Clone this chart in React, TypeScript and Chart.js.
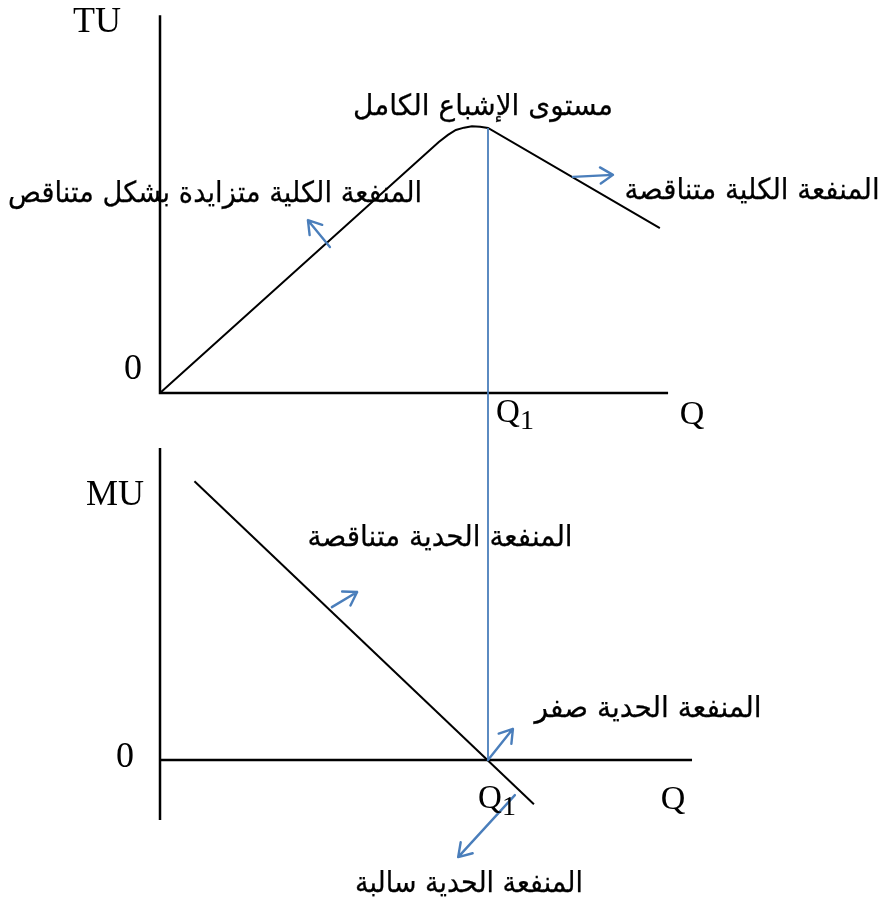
import React, { useEffect, useRef } from "react";
import { Chart, registerables } from "chart.js";

Chart.register(...registerables);

// ---------- data (Q units horizontally, TU / MU units vertically) ----------
const tuQ = [0, 8.5, 8.78, 9.02, 9.27, 9.51, 9.76, 10, 15.24];
const tuValues = [0, 7.65, 7.87, 8.02, 8.09, 8.13, 8.12, 8.08, 5.03];

const muQ = [1.05, 11.4];
const muValues = [8.5, -1.35];

const Q1 = 10;
const TU_MAX = 8.08;

const topAxisQ = [0, 0, 15.49];
const topAxisV = [11.52, 0, 0];
const botVertQ = [0, 0];
const botVertV = [9.51, -1.83];
const botHorzQ = [0, 16.22];
const botHorzV = [0, 0];

// arrows
const arrowTailQ = [5.18, 12.59, 5.24, 10, 10.82];
const arrowTailV = [4.45, 6.59, 4.66, 0, -1.07];
const arrowHeadQ = [4.51, 13.81, 6.01, 10.76, 9.09];
const arrowHeadV = [5.27, 6.65, 5.12, 0.95, -2.96];
const arrowPanel = ["yTop", "yTop", "yBot", "yBot", "yBot"];

// Arabic annotations
const arText = [
  "مستوى الإشباع الكامل",
  "المنفعة الكلية متزايدة بشكل متناقص",
  "المنفعة الكلية متناقصة",
  "المنفعة الحدية متناقصة",
  "المنفعة الحدية صفر",
  "المنفعة الحدية سالبة",
];
const arQ = [9.85, 1.68, 18.05, 8.54, 14.88, 9.42];
const arV = [8.72, 6.04, 6.13, 6.74, 1.53, -3.78];
const arPanel = ["yTop", "yTop", "yTop", "yBot", "yBot", "yBot"];
const arWidth = [260, 414, 255, 265, 227, 228];

// Latin axis labels
const latText = ["TU", "0", "Q", "MU", "0", "Q"];
const latQ = [-1.92, -0.82, 16.22, -1.37, -1.07, 15.64];
const latV = [11.28, 0.7, -0.67, 8.05, 0.09, -1.22];
const latPanel = ["yTop", "yTop", "yTop", "yBot", "yBot", "yBot"];

// Q1 labels
const q1Q = [10.61, 10.06];
const q1V = [-0.61, -1.19];
const q1Panel = ["yTop", "yBot"];

// ---------- layout constants ----------
const W = 884;
const H = 897;
const PX_PER_UNIT = 32.8;
const ORIGIN_X = 160;
const TOP_ORIGIN_Y = 393;
const BOT_ORIGIN_Y = 760;
const BLUE = "#4a7ebb";
const SERIF = "'Liberation Serif', 'Times New Roman', serif";
const SANS = "'DejaVu Sans', Arial, sans-serif";
const AR_SIZE = 29;

const pts = (xs: number[], ys: number[]) => xs.map((x, i) => ({ x, y: ys[i] }));

const overlay = {
  id: "overlay",
  afterDatasetsDraw(chart: any) {
    const { ctx, scales } = chart;
    const xs = scales.x;
    ctx.save();
    // blue vertical line at Q1, spanning both panels
    ctx.strokeStyle = BLUE;
    ctx.lineWidth = 1.8;
    ctx.beginPath();
    const qx = xs.getPixelForValue(Q1);
    ctx.moveTo(qx, scales.yTop.getPixelForValue(TU_MAX));
    ctx.lineTo(qx, scales.yBot.getPixelForValue(0));
    ctx.stroke();

    // arrows
    ctx.lineWidth = 2.4;
    ctx.lineCap = "round";
    ctx.lineJoin = "round";
    for (let i = 0; i < arrowTailQ.length; i++) {
      const ys = scales[arrowPanel[i]];
      const x1 = xs.getPixelForValue(arrowTailQ[i]);
      const y1 = ys.getPixelForValue(arrowTailV[i]);
      const x2 = xs.getPixelForValue(arrowHeadQ[i]);
      const y2 = ys.getPixelForValue(arrowHeadV[i]);
      const a = Math.atan2(y2 - y1, x2 - x1);
      const L = 15;
      const spread = Math.PI / 5.5;
      ctx.beginPath();
      ctx.moveTo(x1, y1);
      ctx.lineTo(x2, y2);
      ctx.moveTo(x2 - L * Math.cos(a - spread), y2 - L * Math.sin(a - spread));
      ctx.lineTo(x2, y2);
      ctx.lineTo(x2 - L * Math.cos(a + spread), y2 - L * Math.sin(a + spread));
      ctx.stroke();
    }

    // Arabic text, fitted to the reference widths
    ctx.fillStyle = "#000";
    ctx.strokeStyle = "#000";
    ctx.lineWidth = 0.25;
    ctx.textAlign = "center";
    ctx.textBaseline = "middle";
    ctx.font = `${AR_SIZE}px ${SANS}`;
    for (let i = 0; i < arText.length; i++) {
      const ys = scales[arPanel[i]];
      const m = ctx.measureText(arText[i]).width;
      const sx = arWidth[i] / m;
      ctx.save();
      ctx.translate(xs.getPixelForValue(arQ[i]), ys.getPixelForValue(arV[i]));
      ctx.scale(sx, 1);
      ctx.fillText(arText[i], 0, 0);
      ctx.strokeText(arText[i], 0, 0);
      ctx.restore();
    }

    for (let i = 0; i < latText.length; i++) {
      const ys = scales[latPanel[i]];
      ctx.font = latText[i] === "Q" ? `34px ${SERIF}` : `36px ${SERIF}`;
      ctx.fillText(latText[i], xs.getPixelForValue(latQ[i]), ys.getPixelForValue(latV[i]));
    }
    for (let i = 0; i < q1Q.length; i++) {
      const ys = scales[q1Panel[i]];
      const cx = xs.getPixelForValue(q1Q[i]);
      const cy = ys.getPixelForValue(q1V[i]);
      ctx.font = `33px ${SERIF}`;
      ctx.textAlign = "center";
      ctx.fillText("Q", cx, cy);
      ctx.font = `28px ${SERIF}`;
      ctx.fillText("1", cx + 19, cy + 9);
    }
    ctx.restore();
  },
};

export default function App() {
  const ref = useRef<HTMLCanvasElement | null>(null);
  useEffect(() => {
    document.body.style.margin = "0";
    const canvas = ref.current!;
    const black = { borderColor: "#000", pointRadius: 0, fill: false, tension: 0 };
    const chart = new Chart(canvas, {
      type: "line",
      data: {
        datasets: [
          { ...black, data: pts(topAxisQ, topAxisV), borderWidth: 2.5, yAxisID: "yTop" },
          { ...black, data: pts(tuQ, tuValues), borderWidth: 2, yAxisID: "yTop" },
          { ...black, data: pts(botVertQ, botVertV), borderWidth: 2.5, yAxisID: "yBot" },
          { ...black, data: pts(botHorzQ, botHorzV), borderWidth: 2.5, yAxisID: "yBot" },
          { ...black, data: pts(muQ, muValues), borderWidth: 2, yAxisID: "yBot" },
        ],
      },
      options: {
        animation: false,
        responsive: false,
        events: [],
        layout: { padding: 0 },
        plugins: { legend: { display: false }, tooltip: { enabled: false } },
        scales: {
          x: {
            type: "linear",
            display: false,
            min: -ORIGIN_X / PX_PER_UNIT,
            max: (W - ORIGIN_X) / PX_PER_UNIT,
          },
          yTop: {
            type: "linear",
            display: false,
            min: (TOP_ORIGIN_Y - H) / PX_PER_UNIT,
            max: TOP_ORIGIN_Y / PX_PER_UNIT,
          },
          yBot: {
            type: "linear",
            display: false,
            min: (BOT_ORIGIN_Y - H) / PX_PER_UNIT,
            max: BOT_ORIGIN_Y / PX_PER_UNIT,
          },
        },
      },
      plugins: [overlay],
    });
    return () => chart.destroy();
  }, []);
  return (
    <canvas
      ref={ref}
      width={W}
      height={H}
      style={{ position: "absolute", left: 0, top: 0, width: W, height: H, background: "#fff" }}
    />
  );
}
